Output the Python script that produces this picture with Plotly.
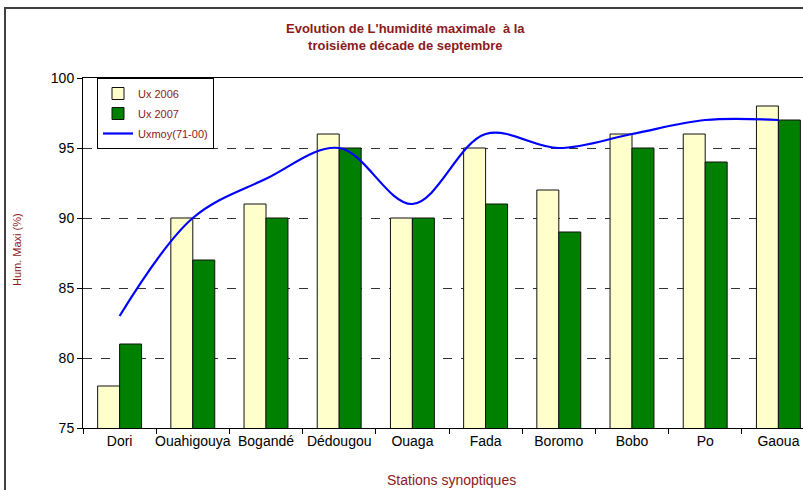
import plotly.graph_objects as go

stations = ["Dori", "Ouahigouya", "Bogandé", "Dédougou", "Ouaga", "Fada",
            "Boromo", "Bobo", "Po", "Gaoua"]
ux_2006 = [78, 90, 91, 96, 90, 95, 92, 96, 96, 98]
ux_2007 = [81, 87, 90, 95, 90, 91, 89, 95, 94, 97]
uxmoy = [83, 90, 92.8, 95, 91, 96, 95, 96, 97, 97]
y_ticks = [75, 80, 85, 90, 95, 100]

W, H = 803, 490
L, R, T, B = 83, 0, 78, 62
pw = W - L - R
ph = H - T - B
BOT = T + ph  # pixel y of the x axis

def px_x(x):
    return (x - L) / pw

def px_y(y):
    return (BOT - y) / ph

DARKRED = "#8B1A1A"
FONT = "Liberation Sans, Arial, sans-serif"

fig = go.Figure()
fig.add_trace(go.Bar(x=stations, y=ux_2006, name="Ux 2006",
                     marker=dict(color="#FFFFCC", line=dict(color="#111111", width=1)),
                     legendgroup="a"))
fig.add_trace(go.Bar(x=stations, y=ux_2007, name="Ux 2007",
                     marker=dict(color="#008000", line=dict(color="#111111", width=1)),
                     legendgroup="b"))
fig.add_trace(go.Scatter(x=stations, y=uxmoy, name="Uxmoy(71-00)", mode="lines",
                         line=dict(color="#0000FF", width=2.2, shape="spline", smoothing=1),
                         legendgroup="c"))

cat_px = 73.2
xmax = -0.5 + pw / cat_px

fig.update_layout(
    width=W, height=H,
    margin=dict(l=L, r=R, t=T, b=B, autoexpand=False),
    paper_bgcolor="white", plot_bgcolor="white",
    font=dict(family=FONT, size=14, color="black"),
    barmode="group", bargap=0.4, bargroupgap=0,
    legend=dict(x=px_x(97), y=1, xanchor="left", yanchor="top",
                bgcolor="white", bordercolor="black", borderwidth=1,
                font=dict(family=FONT, size=11, color=DARKRED),
                tracegroupgap=1, itemwidth=30),
    xaxis=dict(range=[-0.5, xmax], showgrid=False, showline=True, linecolor="black",
               linewidth=1, mirror=True, ticks="outside", ticklen=5, tickcolor="black",
               tickson="boundaries", tickangle=0,
               tickfont=dict(family=FONT, size=14, color="black")),
    yaxis=dict(range=[75, 100], tickvals=y_ticks, showgrid=True, gridcolor="#333333",
               griddash="dash", gridwidth=1, showline=True, linecolor="black", linewidth=1,
               ticks="outside", ticklen=5, tickcolor="black", zeroline=False,
               tickfont=dict(family=FONT, size=14, color="black")),
    showlegend=True,
)

fig.add_annotation(text="<b>Evolution de L'humidité maximale  à la<br>troisième décade de septembre</b>",
                   xref="paper", yref="paper", x=px_x(405), y=px_y(36.5),
                   showarrow=False, xanchor="center", yanchor="middle",
                   font=dict(family=FONT, size=13, color=DARKRED))
fig.add_annotation(text="Stations synoptiques", xref="paper", yref="paper",
                   x=px_x(452), y=px_y(480), showarrow=False,
                   font=dict(family=FONT, size=14, color=DARKRED), yanchor="middle")
fig.add_annotation(text="Hum. Maxi (%)", xref="paper", yref="paper",
                   x=px_x(17), y=px_y(250), showarrow=False, textangle=-90,
                   font=dict(family=FONT, size=11, color=DARKRED), xanchor="center",
                   yanchor="middle")

# outer chart frame (right and bottom edges fall outside the picture)
fig.add_shape(type="rect", xref="paper", yref="paper",
              x0=px_x(5), x1=px_x(815), y0=px_y(500), y1=px_y(8),
              line=dict(color="#404040", width=2), layer="below")

fig.write_html("out.html", config={"displayModeBar": False},
               post_script="document.body.style.margin='0px';")
